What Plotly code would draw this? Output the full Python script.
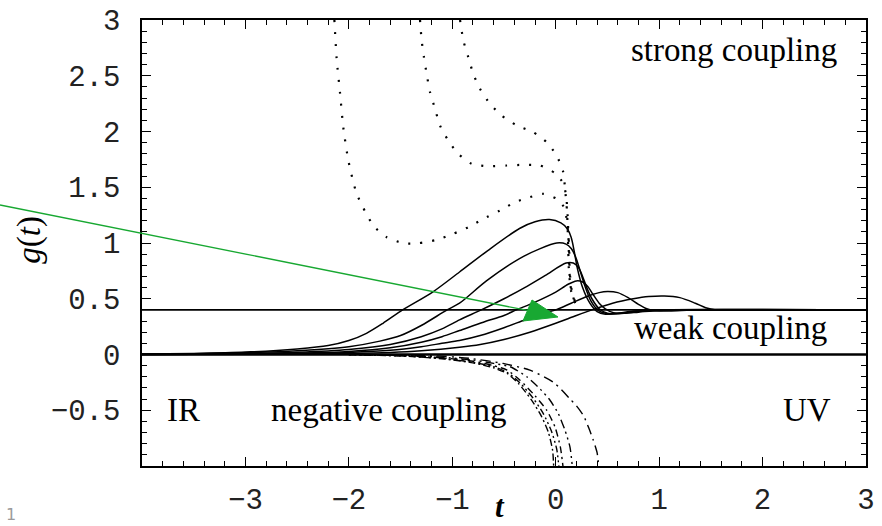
import plotly.graph_objects as go

# ---- RG trajectories g(t) -------------------------------------------------
# solid: trajectories approaching the UV fixed point through weak coupling
solid_t = [
    [-4.0, -3.5, -3.0, -2.5, -2.2, -2.0, -1.83, -1.67, -1.48, -1.19, -0.93, -0.66, -0.35, -0.2, -0.06,
     0.05, 0.11, 0.15, 0.18, 0.21, 0.26, 0.33, 0.40, 0.48, 0.6, 0.75, 0.95, 3.0],
    [-4.0, -3.5, -3.0, -2.5, -2.0, -1.7, -1.5, -1.3, -1.05, -0.93, -0.67, -0.35, -0.15, 0.01,
     0.1, 0.15, 0.19, 0.23, 0.28, 0.34, 0.41, 0.5, 0.62, 0.8, 1.0, 3.0],
    [-4.0, -3.5, -3.0, -2.5, -2.0, -1.6, -1.3, -1.1, -0.93, -0.72, -0.5, -0.3, -0.1, 0.1,
     0.17, 0.22, 0.26, 0.3, 0.35, 0.42, 0.5, 0.6, 0.75, 0.95, 1.2, 3.0],
    [-4.0, -3.5, -3.0, -2.5, -2.0, -1.6, -1.3, -1.1, -0.93, -0.7, -0.5, -0.38, -0.2, 0.0, 0.12,
     0.2, 0.26, 0.31, 0.36, 0.42, 0.48, 0.56, 0.66, 0.8, 1.0, 1.3, 3.0],
    [-4.0, -3.0, -2.5, -2.0, -1.6, -1.3, -1.1, -0.93, -0.73, -0.5, -0.3, -0.15, 0.0, 0.15, 0.3,
     0.42, 0.5, 0.6, 0.7, 0.8, 0.88, 0.95, 1.1, 1.3, 1.5, 3.0],
    [-4.0, -3.0, -2.5, -2.0, -1.6, -1.3, -0.93, -0.73, -0.5, -0.25, 0.0, 0.2, 0.35, 0.55, 0.75,
     0.9, 1.05, 1.2, 1.35, 1.45, 1.55, 1.7, 2.0, 3.0],
]
solid_g = [
    [0.004, 0.01, 0.022, 0.05, 0.08, 0.125, 0.19, 0.28, 0.40, 0.56, 0.74, 0.93, 1.13, 1.19, 1.21,
     1.18, 1.13, 1.05, 0.92, 0.77, 0.6, 0.46, 0.385, 0.362, 0.37, 0.39, 0.4, 0.4],
    [0.003, 0.007, 0.015, 0.033, 0.07, 0.12, 0.17, 0.26, 0.40, 0.46, 0.66, 0.86, 0.95, 1.0,
     0.99, 0.95, 0.88, 0.77, 0.62, 0.48, 0.395, 0.365, 0.37, 0.39, 0.4, 0.4],
    [0.002, 0.004, 0.009, 0.02, 0.045, 0.09, 0.16, 0.23, 0.31, 0.40, 0.5, 0.6, 0.71, 0.82,
     0.82, 0.78, 0.7, 0.6, 0.5, 0.41, 0.37, 0.365, 0.38, 0.395, 0.4, 0.4],
    [0.001, 0.003, 0.006, 0.012, 0.028, 0.06, 0.11, 0.16, 0.215, 0.29, 0.35, 0.40, 0.47, 0.56, 0.63,
     0.66, 0.65, 0.61, 0.54, 0.46, 0.41, 0.375, 0.37, 0.38, 0.395, 0.4, 0.4],
    [0.001, 0.004, 0.008, 0.018, 0.037, 0.07, 0.1, 0.125, 0.17, 0.24, 0.31, 0.36, 0.40, 0.46, 0.52,
     0.555, 0.565, 0.555, 0.51, 0.45, 0.41, 0.395, 0.39, 0.398, 0.4, 0.4],
    [0.0, 0.002, 0.004, 0.009, 0.018, 0.033, 0.065, 0.09, 0.135, 0.2, 0.28, 0.35, 0.40, 0.46, 0.5,
     0.52, 0.525, 0.51, 0.46, 0.42, 0.4, 0.396, 0.4, 0.4],
]

# dotted: trajectories coming down from strong coupling
dotted_t = [
    [-2.14, -2.118, -2.086, -2.054, -2.005, -1.924, -1.764, -1.634, -1.474, -1.329, -1.151, -0.99,
     -0.845, -0.7, -0.539, -0.394, -0.249, -0.12, 0.01, 0.09, 0.106, 0.122, 0.13, 0.135, 0.155, 0.205],
    [-1.312, -1.296, -1.274, -1.248, -1.215, -1.167, -1.119, -1.039, -0.942, -0.812, -0.652, -0.474,
     -0.313, -0.152, -0.007, 0.07, 0.1, 0.115, 0.125, 0.132, 0.15, 0.2],
    [-0.925, -0.893, -0.845, -0.797, -0.732, -0.635, -0.522, -0.377, -0.217, -0.088, 0.009, 0.073,
     0.09, 0.109, 0.119, 0.128, 0.148, 0.196],
]
dotted_g = [
    [3.0, 2.652, 2.352, 2.039, 1.74, 1.441, 1.157, 1.052, 0.998, 0.998, 1.029, 1.083,
     1.142, 1.217, 1.291, 1.366, 1.411, 1.441, 1.396, 1.307, 1.202, 1.083, 0.95, 0.75, 0.574, 0.42],
    [3.0, 2.816, 2.666, 2.517, 2.352, 2.204, 2.054, 1.919, 1.8, 1.71, 1.689, 1.695,
     1.701, 1.695, 1.626, 1.54, 1.43, 1.25, 1.0, 0.75, 0.574, 0.43],
    [3.0, 2.816, 2.666, 2.517, 2.383, 2.248, 2.143, 2.054, 1.994, 1.904, 1.785, 1.635,
     1.49, 1.29, 1.02, 0.75, 0.574, 0.44],
]

# dash-dotted: trajectories running into negative coupling
dashdot_t = [
    [-2.0, -1.5, -1.1, -0.8, -0.6, -0.47, -0.36, -0.24, -0.14, -0.07, -0.03, -0.02],
    [-2.0, -1.5, -1.1, -0.8, -0.6, -0.47, -0.35, -0.22, -0.12, -0.04, 0.01, 0.03],
    [-2.0, -1.5, -1.1, -0.8, -0.6, -0.47, -0.345, -0.2, -0.087, -0.007, 0.045, 0.07],
    [-2.0, -1.5, -1.1, -0.8, -0.6, -0.44, -0.28, -0.15, -0.055, 0.025, 0.09, 0.138, 0.16],
    [-2.0, -1.6, -1.2, -0.83, -0.51, -0.25, -0.02, 0.14, 0.2, 0.27, 0.32, 0.36, 0.4, 0.415],
]
dashdot_g = [
    [0.0, -0.013, -0.038, -0.075, -0.12, -0.17, -0.26, -0.4, -0.55, -0.7, -0.86, -1.0],
    [0.0, -0.012, -0.035, -0.07, -0.11, -0.16, -0.25, -0.39, -0.53, -0.69, -0.85, -1.0],
    [0.0, -0.01, -0.03, -0.06, -0.1, -0.14, -0.23, -0.37, -0.5, -0.65, -0.83, -1.0],
    [0.0, -0.008, -0.025, -0.05, -0.08, -0.11, -0.2, -0.31, -0.41, -0.53, -0.68, -0.83, -1.0],
    [0.0, -0.004, -0.01, -0.035, -0.08, -0.14, -0.25, -0.4, -0.46, -0.55, -0.66, -0.76, -0.88, -1.0],
]
dashdot_styles = ["7px,3px,2px,3px", "2px,3px,2px,3px,7px,3px", "7px,4px,2px,4px",
                  "2px,4px,2px,4px,9px,4px", "10px,5px,2px,5px"]

# fixed points: Gaussian (g = 0) and non-Gaussian (g* = 0.4)
fixed_points = [0.0, 0.4]
fixed_widths = [2.6, 1.6]
t_span = [-4.0, 3.0]

x_ticks = [-3, -2, -1, 0, 1, 2, 3]
x_ticklabels = ["\u22123", "\u22122", "\u22121", "0", "1", "2", "3"]
y_ticks = [-0.5, 0, 0.5, 1, 1.5, 2, 2.5, 3]
y_ticklabels = ["\u22120.5", "0", "0.5", "1", "1.5", "2", "2.5", "3"]

fig = go.Figure()

for gv, w in zip(fixed_points, fixed_widths):
    fig.add_trace(go.Scatter(x=t_span, y=[gv, gv], mode="lines",
                             line=dict(color="black", width=w), hoverinfo="skip"))

for tt, gg in zip(solid_t, solid_g):
    fig.add_trace(go.Scatter(x=tt, y=gg, mode="lines",
                             line=dict(color="black", width=1.5, shape="spline", smoothing=0.8)))

for tt, gg in zip(dotted_t, dotted_g):
    fig.add_trace(go.Scatter(x=tt, y=gg, mode="lines",
                             line=dict(color="black", width=2.2, dash="2px,10px",
                                       shape="spline", smoothing=0.6)))

for tt, gg, ds in zip(dashdot_t, dashdot_g, dashdot_styles):
    fig.add_trace(go.Scatter(x=tt, y=gg, mode="lines",
                             line=dict(color="black", width=1.4, dash=ds,
                                       shape="spline", smoothing=0.6)))

serif = "Liberation Serif, Times New Roman, serif"
mono = "Liberation Mono, Courier New, monospace"

region_labels = [
    ("strong coupling", 1.72, 2.73),
    ("weak coupling", 1.69, 0.24),
    ("IR", -3.60, -0.50),
    ("negative coupling", -1.61, -0.50),
    ("UV", 2.43, -0.50),
]
for txt, tx, ty in region_labels:
    fig.add_annotation(x=tx, y=ty, xref="x", yref="y", text=txt, showarrow=False,
                       font=dict(family=serif, size=33, color="black"))

# axis titles
fig.add_annotation(x=0.4945, y=-0.1335, xref="paper", yref="paper", text="<b><i>t</i></b>",
                   showarrow=False, xanchor="center", yanchor="bottom",
                   font=dict(family=serif, size=31, color="black"))
fig.add_annotation(x=-0.155, y=0.507, xref="paper", yref="paper", text="<i>g</i>(<i>t</i>)",
                   showarrow=False, textangle=-90, xanchor="center", yanchor="middle",
                   font=dict(family=serif, size=33, color="black"))

# green pointer drawn over the chart
green = "#18a832"
fig.add_shape(type="line", xref="paper", yref="paper",
              x0=-0.1961, y0=0.5852, x1=0.5325, y1=0.3487,
              line=dict(color=green, width=1.3), layer="above")
fig.add_shape(type="path", xref="paper", yref="paper",
              path="M 0.5387,0.3722 L 0.5262,0.3251 L 0.5746,0.3341 Z",
              fillcolor=green, line=dict(color=green, width=1), layer="above")

fig.add_annotation(x=-0.19, y=-0.134, xref="paper", yref="paper", text="1", showarrow=False,
                   xanchor="left", yanchor="bottom",
                   font=dict(family="DejaVu Sans", size=16, color="#9a9a9a"))

axis_common = dict(
    showgrid=False, zeroline=False, showline=True, linecolor="black", linewidth=1.5,
    mirror="allticks", ticks="inside", ticklen=9, tickwidth=1.2, tickcolor="black",
    tickfont=dict(family=mono, size=29, color="#222222"), automargin=False,
)

fig.update_xaxes(range=[-4, 3], tickmode="array", tickvals=x_ticks, ticktext=x_ticklabels,
                 minor=dict(ticks="inside", ticklen=5, tickwidth=1, tickcolor="black",
                            dtick=0.2, tick0=0, showgrid=False),
                 ticklabelstandoff=6,
                 **axis_common)
fig.update_yaxes(range=[-1, 3], tickmode="array", tickvals=y_ticks, ticktext=y_ticklabels,
                 minor=dict(ticks="inside", ticklen=5, tickwidth=1, tickcolor="black",
                            dtick=0.1, tick0=0, showgrid=False),
                 ticklabelstandoff=14,
                 **axis_common)

fig.update_layout(
    width=882, height=526,
    margin=dict(l=142, r=16, t=20, b=60),
    paper_bgcolor="white", plot_bgcolor="white",
    showlegend=False,
)

fig.write_html("out.html")
